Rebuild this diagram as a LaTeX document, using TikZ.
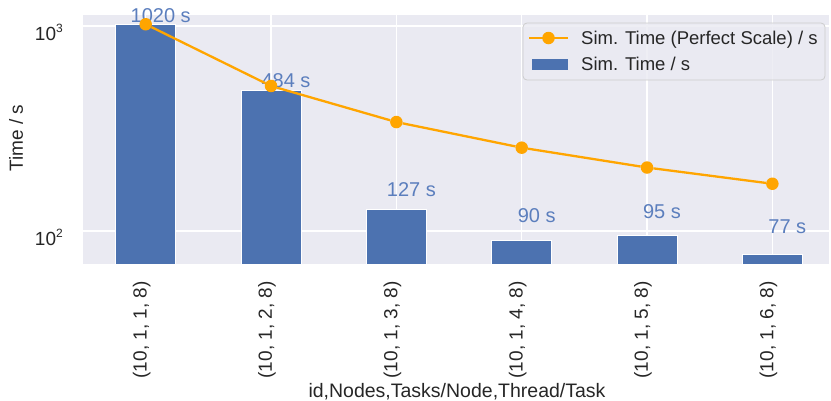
\documentclass[tikz,border=0pt]{standalone}
\usepackage{fontspec}
\setmainfont{Liberation Sans}
\usetikzlibrary{positioning}
\definecolor{barBlue}{HTML}{4C72B0}
\definecolor{plotBack}{HTML}{EAEAF2}
\definecolor{axisText}{HTML}{262626}
\definecolor{valueBlue}{HTML}{5B7EBD}
\definecolor{perfectOrange}{HTML}{FFA500}
\tikzstyle{bar} = [fill=barBlue, draw=white, line width=0.8pt]
\tikzstyle{gridline} = [draw=white, line width=1.5pt]
\tikzstyle{dot} = [circle, fill=perfectOrange, inner sep=0pt, minimum size=12.5pt]
\tikzstyle{scaleline} = [draw=perfectOrange, line width=2.3pt]
\tikzstyle{ticklabel} = [text=axisText, font=\fontsize{19}{22}\selectfont, inner sep=0pt]
\tikzstyle{valuelabel} = [text=valueBlue, font=\fontsize{20}{24}\selectfont, inner sep=0pt, anchor=base]
\tikzstyle{legendbox} = [fill=plotBack, fill opacity=0.8, draw=black!20, line width=0.8pt, rounded corners=4pt]
\tikzstyle{legendtext} = [text=axisText, font=\fontsize{18.5}{22}\selectfont, inner sep=0pt, anchor=base west]
\newcommand{\expo}[1]{\raisebox{8pt}{\fontsize{12}{13}\selectfont #1}}

\begin{document}
\begin{tikzpicture}[x=1pt, y=-1pt]
\useasboundingbox (0,0) rectangle (831,400);

% plot area and grid
\fill[plotBack] (83,15) rectangle (829,264);
\draw[gridline] (83,26) -- (829,26);
\draw[gridline] (83,231) -- (829,231);
\foreach \i in {1,...,6}{
  \pgfmathsetmacro{\xc}{145.7+(\i-1)*125.33}
  \draw[gridline] (\xc,15) -- (\xc,264);
}

% bars, values and x ticks
\foreach \i/\v in {1/1020,2/484,3/127,4/90,5/95,6/77}{
  \pgfmathsetmacro{\xc}{145.7+(\i-1)*125.33}
  \pgfmathsetmacro{\ytop}{231-205*(log10(\v)-2)}
  \pgfmathsetmacro{\ylab}{231-205*(log10(\v+20)-2)}
  \fill[bar] (\xc-30,\ytop) rectangle (\xc+30,264);
  \node[valuelabel] (value\i) at (\xc+15,\ylab) {\v\ s};
  \node[ticklabel, rotate=90, anchor=east] (xTick\i) at (\xc-4,281) {(10, 1, \i, 8)};
}

% perfect scale
\foreach \i in {1,...,6}{
  \pgfmathsetmacro{\xc}{145.7+(\i-1)*125.33}
  \pgfmathsetmacro{\yopt}{231-205*(log10(1020/\i)-2)}
  \node[dot] (perfect\i) at (\xc,\yopt) {};
}
\draw[scaleline] (perfect1) -- (perfect2) -- (perfect3) -- (perfect4) -- (perfect5) -- (perfect6);

% axes labels
\node[ticklabel, anchor=base east] (yTickHigh) at (63,40) {10\expo{3}};
\node[ticklabel, anchor=base east] (yTickLow) at (63,245) {10\expo{2}};
\node[ticklabel, rotate=90] (yLabel) at (16,138) {Time / s};
\node[ticklabel, anchor=base, font=\fontsize{19.5}{23}\selectfont] (xLabel) at (457,397) {id,Nodes,Tasks/Node,Thread/Task};

% legend
\draw[legendbox] (523,23) rectangle (825,80);
\coordinate (lineStart) at (529,38);
\coordinate (lineEnd) at (568,38);
\draw[scaleline] (lineStart) -- (lineEnd);
\node[dot] (legendDot) at (548.5,38) {};
\node[legendtext] (legendPerfect) at (581,44) {Sim. Time (Perfect Scale) / s};
\fill[barBlue] (531.5,58.5) rectangle (567.5,70);
\node[legendtext] (legendSim) at (581,70.5) {Sim. Time / s};
\end{tikzpicture}
\end{document}
